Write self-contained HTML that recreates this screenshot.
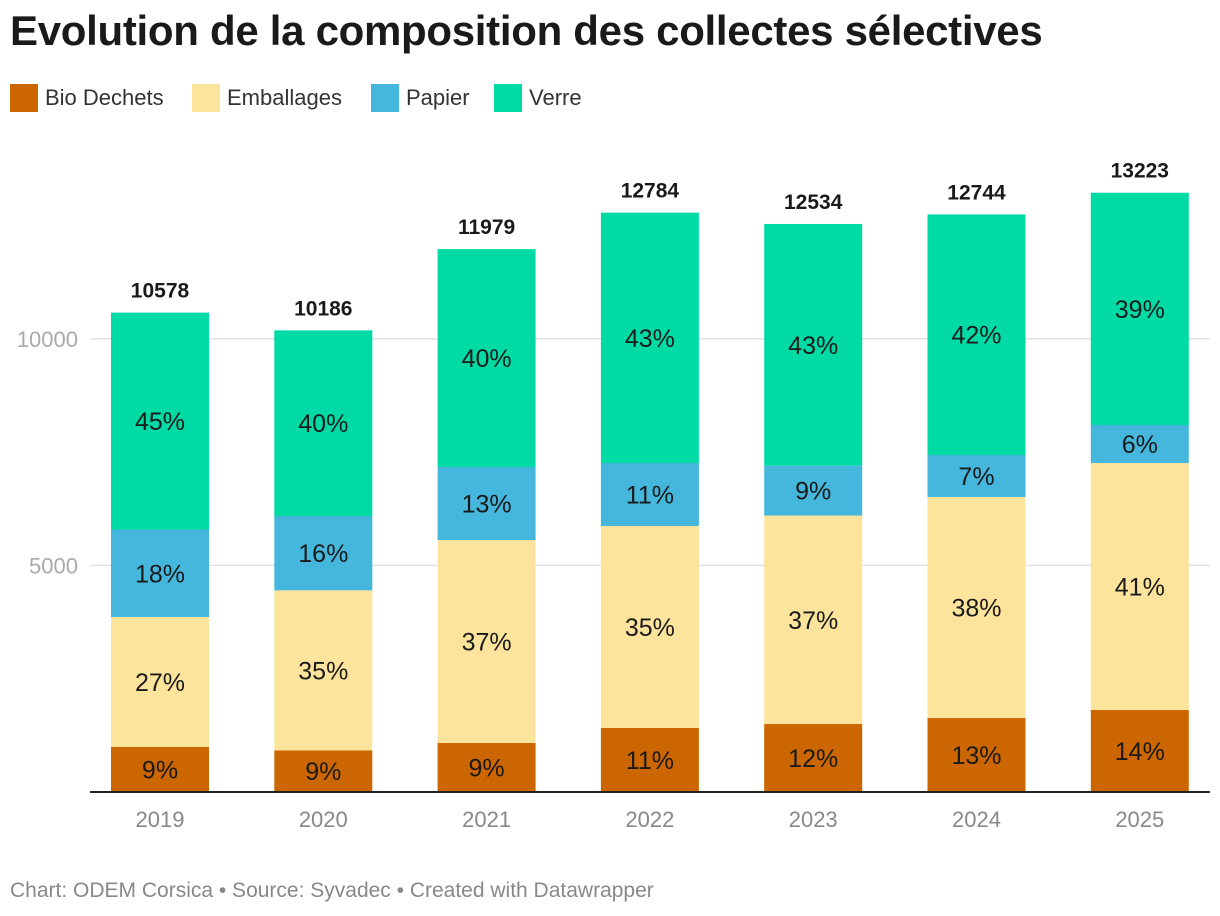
<!DOCTYPE html>
<html><head><meta charset="utf-8">
<style>
body{margin:0;background:#fff;font-family:"Liberation Sans",sans-serif;}
#wrap{position:relative;width:1220px;height:916px;overflow:hidden;}
h1{position:absolute;left:10px;top:7px;margin:0;font-size:42px;font-weight:bold;color:#1a1a1a;letter-spacing:-0.3px;}
.leg{position:absolute;top:84px;display:flex;align-items:center;font-size:22px;color:#333;}
.sw{width:28px;height:28px;margin-right:7px;}
#foot{position:absolute;left:10px;top:879px;font-size:21px;color:#888;}
</style></head><body>
<div id="wrap">
<h1>Evolution de la composition des collectes sélectives</h1>
<div class="leg" style="left:10px"><div class="sw" style="background:#cc6600"></div>Bio Dechets</div>
<div class="leg" style="left:192px"><div class="sw" style="background:#fde49c"></div>Emballages</div>
<div class="leg" style="left:371px"><div class="sw" style="background:#45b6dc"></div>Papier</div>
<div class="leg" style="left:494px"><div class="sw" style="background:#00dba6"></div>Verre</div>
<svg id="svg" width="1220" height="916" style="position:absolute;left:0;top:0"></svg>
<div id="foot">Chart: ODEM Corsica • Source: Syvadec • Created with Datawrapper</div>
</div>
<script>
const years=["2019","2020","2021","2022","2023","2024","2025"];
const bio=[993,920,1081,1412,1500,1633,1809];
const emballages=[2868,3530,4479,4457,4600,4876,5450];
const papier=[1930,1640,1611,1390,1100,927,839];
const verre=[4787,4096,4808,5525,5334,5308,5125];
const yTicks=[5000,10000];
const series=[{n:"bio",v:bio,c:"#cc6600"},{n:"emballages",v:emballages,c:"#fde49c"},{n:"papier",v:papier,c:"#45b6dc"},{n:"verre",v:verre,c:"#00dba6"}];
const NS="http://www.w3.org/2000/svg";
const svg=document.getElementById('svg');
const y0=792,k=0.04532;
const y=v=>y0-v*k;
const x=i=>111+i*163.3;
const bw=98;
function mk(t,a,p){const e=document.createElementNS(NS,t);for(const q in a)e.setAttribute(q,a[q]);(p||svg).appendChild(e);return e;}
yTicks.forEach(t=>{
 const l=mk('line',{x1:90,x2:1210,y1:y(t),y2:y(t),stroke:'#e2e2e2','stroke-width':1.5});
 
 
 const tx=mk('text',{x:78,y:y(t)+8,'text-anchor':'end','font-size':22,fill:'#aaa'});
 tx.textContent=t;
 
 
});
years.forEach((yr,i)=>{
 const total=bio[i]+emballages[i]+papier[i]+verre[i];
 let cum=0;
 series.forEach(s=>{
  const v=s.v[i];
  const r=mk('rect',{x:x(i),y:y(cum+v),width:bw,height:v*k,fill:s.c});
  
  
  const t=mk('text',{x:x(i)+bw/2,y:y(cum+v/2)+9,'text-anchor':'middle','font-size':25,fill:'#1a1a1a'});
  t.textContent=Math.round(v/total*100)+'%';
  
  
  cum+=v;
 });
 const tt=mk('text',{x:x(i)+bw/2,y:y(total)-15,'text-anchor':'middle','font-size':21,'font-weight':'bold',fill:'#1a1a1a'});
 tt.textContent=total;
 
 
 const xl=mk('text',{x:x(i)+bw/2,y:827,'text-anchor':'middle','font-size':22,fill:'#888'});
 xl.textContent=yr;
 
 
});
const base=mk('line',{x1:90,x2:1210,y1:y0,y2:y0,stroke:'#222','stroke-width':2});


</script>
</body></html>
